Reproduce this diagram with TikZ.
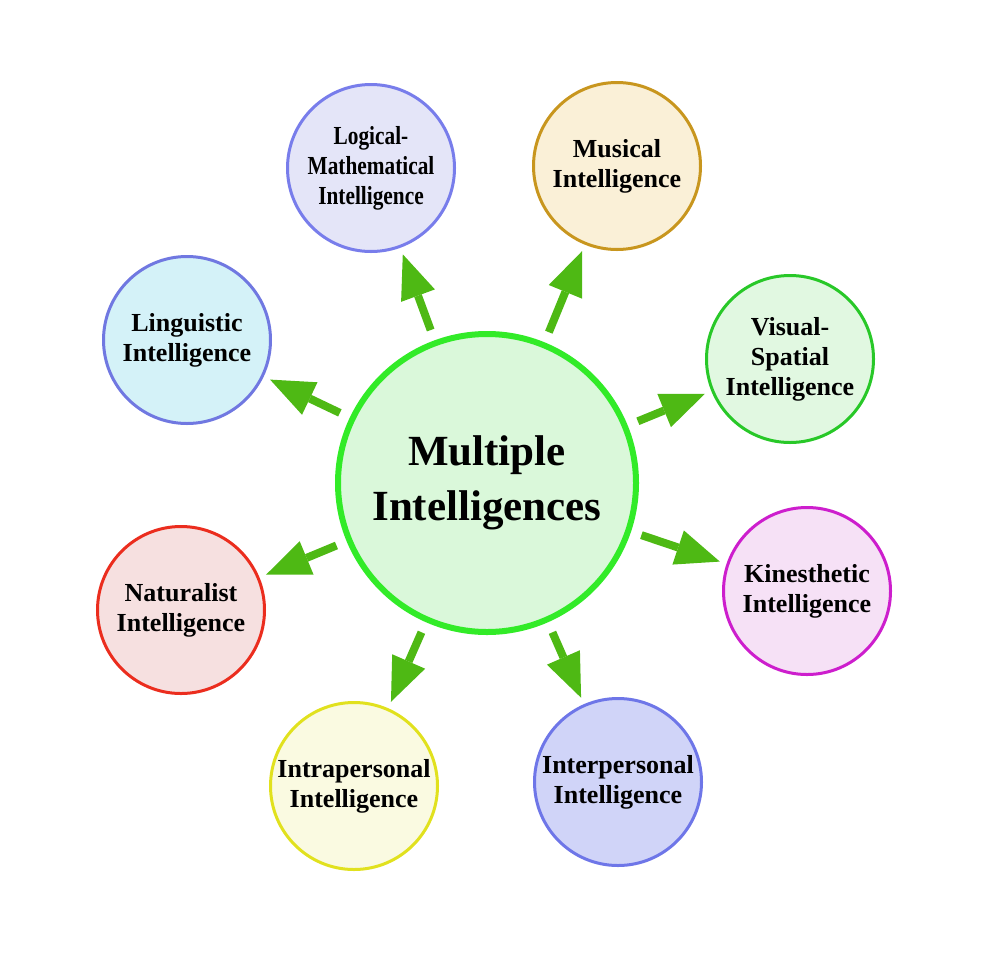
\documentclass[tikz,border=0pt]{standalone}
\usepackage{fontspec}
\setmainfont{Liberation Serif}
\newfontfamily\narrowserif[FakeStretch=0.82]{Liberation Serif}
\usetikzlibrary{arrows.meta}

\definecolor{hubline}{RGB}{50,235,40}
\definecolor{hubfill}{RGB}{218,248,218}
\definecolor{arrowgreen}{RGB}{78,185,20}
\definecolor{lmline}{RGB}{120,125,235}
\definecolor{lmfill}{RGB}{228,229,248}
\definecolor{muline}{RGB}{200,150,30}
\definecolor{mufill}{RGB}{250,240,215}
\definecolor{vsline}{RGB}{40,200,40}
\definecolor{vsfill}{RGB}{225,248,225}
\definecolor{kiline}{RGB}{205,30,205}
\definecolor{kifill}{RGB}{246,225,246}
\definecolor{ieline}{RGB}{110,118,232}
\definecolor{iefill}{RGB}{208,212,248}
\definecolor{ialine}{RGB}{225,225,30}
\definecolor{iafill}{RGB}{250,250,225}
\definecolor{naline}{RGB}{235,45,30}
\definecolor{nafill}{RGB}{246,224,224}
\definecolor{liline}{RGB}{112,120,225}
\definecolor{lifill}{RGB}{212,242,248}

\begin{document}
\begin{tikzpicture}[x=1pt,y=-1pt,
	hub/.style={circle, line width=6pt, draw=hubline, fill=hubfill, minimum size=298pt, inner sep=0pt, align=center, font=\fontsize{43}{55}\selectfont\bfseries},
	kind/.style={circle, line width=3pt, minimum size=167pt, inner sep=0pt, align=center, font=\fontsize{26}{30}\selectfont\bfseries},
	link/.style={-{Triangle[length=44pt,width=36pt,line width=0pt]}, line width=8pt, draw=arrowgreen, fill=arrowgreen, shorten <=11pt, shorten >=7pt}]
	\useasboundingbox (0,0) rectangle (1000,956);
	\node (MI) at (487, 483)	[hub]	{Multiple\\Intelligences};
	\node (LM) at (371, 168)	[kind, draw=lmline, fill=lmfill, font=\fontsize{26}{30}\narrowserif\bfseries]	{Logical-\\Mathematical\\Intelligence};
	\node (MU) at (617, 166)	[kind, draw=muline, fill=mufill]	{Musical\\Intelligence};
	\node (VS) at (790, 359)	[kind, draw=vsline, fill=vsfill]	{Visual-\\Spatial\\Intelligence};
	\node (KI) at (807, 591)	[kind, draw=kiline, fill=kifill]	{Kinesthetic\\Intelligence};
	\node (IE) at (618, 782)	[kind, draw=ieline, fill=iefill]	{Interpersonal\\Intelligence};
	\node (IA) at (354, 786)	[kind, draw=ialine, fill=iafill]	{Intrapersonal\\Intelligence};
	\node (NA) at (181, 610)	[kind, draw=naline, fill=nafill]	{Naturalist\\Intelligence};
	\node (LI) at (187, 340)	[kind, draw=liline, fill=lifill]	{Linguistic\\Intelligence};
	\draw[link] (MI) -- (LM);
	\draw[link] (MI) -- (MU);
	\draw[link] (MI) -- (VS);
	\draw[link] (MI) -- (KI);
	\draw[link] (MI) -- (IE);
	\draw[link] (MI) -- (IA);
	\draw[link] (MI) -- (NA);
	\draw[link] (MI) -- (LI);
\end{tikzpicture}
\end{document}
